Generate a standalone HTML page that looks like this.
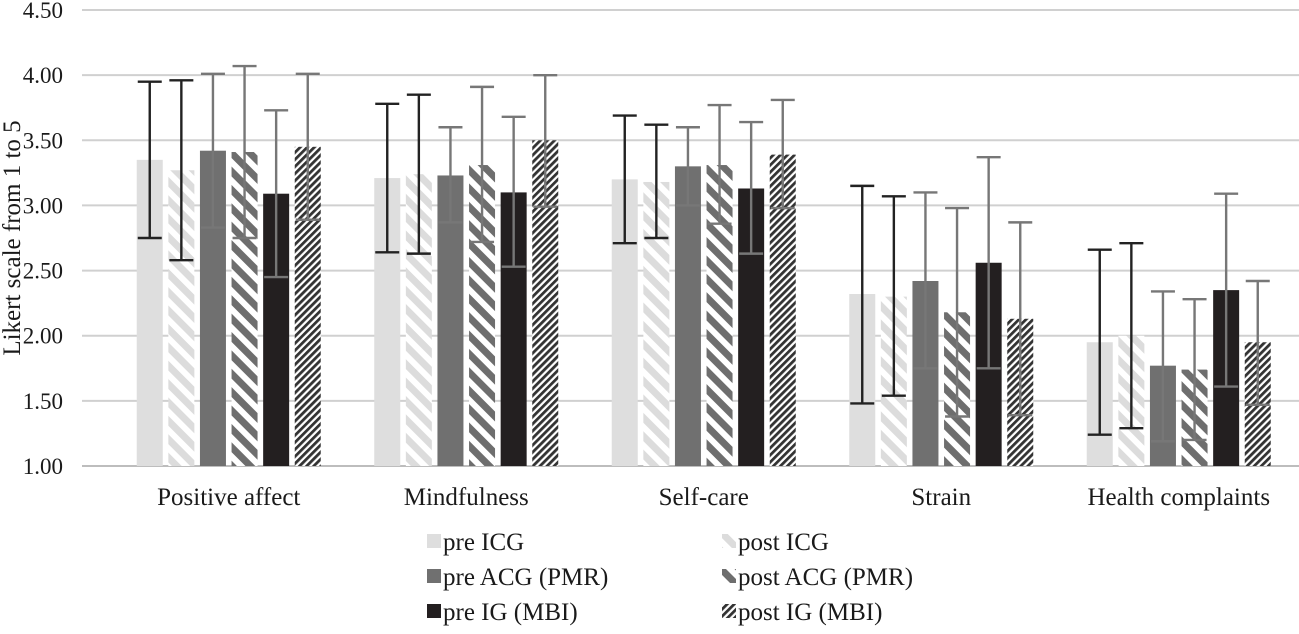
<!DOCTYPE html>
<html><head><meta charset="utf-8"><style>
body{margin:0;background:#fff}
svg text{font-family:"Liberation Serif",serif;fill:#1a1a1a}
</style></head><body>
<svg id="chart" width="1299" height="629" viewBox="0 0 1299 629" xmlns="http://www.w3.org/2000/svg">
<defs>
<pattern id="pPostICG" patternUnits="userSpaceOnUse" width="13" height="13" patternTransform="rotate(-45)">
<rect width="13" height="13" fill="#fff"/><rect width="7" height="13" fill="#dcdcdc"/></pattern>
<pattern id="pPostACG" patternUnits="userSpaceOnUse" width="13" height="13" patternTransform="rotate(-45)">
<rect width="13" height="13" fill="#fff"/><rect width="7" height="13" fill="#6e6e6e"/></pattern>
<pattern id="pPostIG" patternUnits="userSpaceOnUse" width="5" height="5" patternTransform="rotate(45)">
<rect width="5" height="5" fill="#fff"/><rect width="2.8" height="5" fill="#333"/></pattern>
</defs>
<g id="grid"></g>
<g id="bars"></g>
<g id="labels"></g>
<text transform="translate(20,238) rotate(-90)" text-anchor="middle" font-size="25">Likert scale from 1 to 5</text>
<g id="legend"></g>
</svg>
<script>
const categories=["Positive affect","Mindfulness","Self-care","Strain","Health complaints"];
const seriesNames=["pre ICG","post ICG","pre ACG (PMR)","post ACG (PMR)","pre IG (MBI)","post IG (MBI)"];
const preICG=[3.35,3.21,3.20,2.32,1.95];
const postICG=[3.27,3.24,3.18,2.30,2.00];
const preACG=[3.42,3.23,3.30,2.42,1.77];
const postACG=[3.41,3.31,3.31,2.18,1.74];
const preIG=[3.09,3.10,3.13,2.56,2.35];
const postIG=[3.45,3.50,3.39,2.13,1.95];
const errLowPreICG=[2.75,2.64,2.71,1.48,1.24];
const errHighPreICG=[3.95,3.78,3.69,3.15,2.66];
const errLowPostICG=[2.58,2.63,2.75,1.54,1.29];
const errHighPostICG=[3.96,3.85,3.62,3.07,2.71];
const errLowPreACG=[2.83,2.87,3.00,1.75,1.19];
const errHighPreACG=[4.01,3.60,3.60,3.10,2.34];
const errLowPostACG=[2.75,2.72,2.86,1.38,1.20];
const errHighPostACG=[4.07,3.91,3.77,2.98,2.28];
const errLowPreIG=[2.45,2.53,2.63,1.75,1.61];
const errHighPreIG=[3.73,3.68,3.64,3.37,3.09];
const errLowPostIG=[2.89,2.99,2.98,1.39,1.47];
const errHighPostIG=[4.01,4.00,3.81,2.87,2.42];
const yTicks=[1.00,1.50,2.00,2.50,3.00,3.50,4.00,4.50];

const series=[preICG,postICG,preACG,postACG,preIG,postIG];
const lows=[errLowPreICG,errLowPostICG,errLowPreACG,errLowPostACG,errLowPreIG,errLowPostIG];
const highs=[errHighPreICG,errHighPostICG,errHighPreACG,errHighPostACG,errHighPreIG,errHighPostIG];
const fills=["#dedede","url(#pPostICG)","#707070","url(#pPostACG)","#231f20","url(#pPostIG)"];
const errCol=["#222","#222","#777","#777","#777","#777"];
const NS="http://www.w3.org/2000/svg";
const y=v=>466-(v-1)*(456/3.5);
const plotL=110,groupW=237.5,pitch=31.6,barW=26;
const x=(g,s)=>plotL+g*groupW+groupW/2-3*pitch+s*pitch+(pitch-barW)/2;
function mk(tag,attrs,parent){const e=document.createElementNS(NS,tag);for(const k in attrs)e.setAttribute(k,attrs[k]);parent.appendChild(e);return e;}
const grid=document.getElementById('grid'),bars=document.getElementById('bars'),labels=document.getElementById('labels'),legend=document.getElementById('legend');
yTicks.forEach(t=>{
 const l=mk('line',{x1:82,x2:1299,y1:y(t),y2:y(t),stroke:t===1?'#bdbdbd':'#d0d0d0','stroke-width':2},grid);
 
 
 const tx=mk('text',{x:63,y:y(t)+8,'text-anchor':'end','font-size':23},labels);
 tx.textContent=t.toFixed(2);
 
 
});
categories.forEach((c,g)=>{
 series.forEach((arr,s)=>{
  const bx=x(g,s),v=arr[g];
  const r=mk('rect',{x:bx,y:y(v),width:barW,height:y(1)-y(v),fill:fills[s]},bars);
  
  
  const cx=bx+barW/2,lo=y(lows[s][g]),hi=y(highs[s][g]);
  const eb=mk('path',{d:`M${cx},${lo}V${hi}M${cx-12},${hi}h24M${cx-12},${lo}h24`,stroke:errCol[s],'stroke-width':2.4,fill:'none'},bars);
  
  
 });
 const t=mk('text',{x:plotL+g*groupW+groupW/2,y:505,'text-anchor':'middle','font-size':25},labels);
 t.textContent=c;
 
 
});
seriesNames.forEach((n,i)=>{
 const col=i%2,row=Math.floor(i/2);
 const lx=col?722:427,ly=534+row*35;
 const sw=mk('rect',{x:lx,y:ly,width:14,height:14,fill:fills[i]},legend);
 
 
 const t=mk('text',{x:lx+16,y:ly+16,'font-size':25},legend);
 t.textContent=n;
 
 
});
</script>
</body></html>
